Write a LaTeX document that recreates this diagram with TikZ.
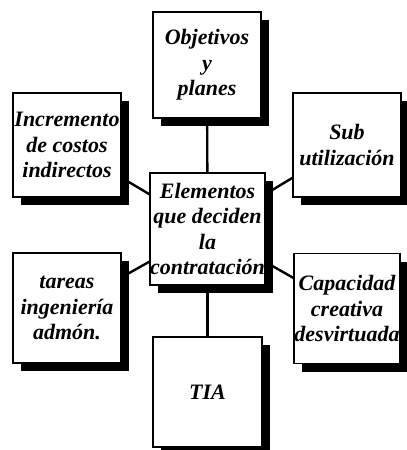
\documentclass[tikz,border=0pt]{standalone}
\usepackage{fontspec}
\setmainfont{Liberation Serif}
\usetikzlibrary{shadows,backgrounds}
\tikzset{
  box/.style={draw=black,line width=1.4pt,fill=white,inner sep=0pt,
    align=center,font=\fontsize{22}{25.5}\selectfont\bfseries\itshape,
    drop shadow={shadow xshift=8pt,shadow yshift=-8pt,fill=black,opacity=1}},
  link/.style={line width=2.4pt}
}
\begin{document}
\begin{tikzpicture}[x=1pt,y=-1pt]
                    \useasboundingbox (0,0) rectangle (407,450);
                    
                    % Marking box Objetivos
                    \node (obj) [box,minimum width=108pt,minimum height=106pt] at (207,65) {Objetivos\\y\\planes};%
                    
                    % Marking box Incremento
                    \node (inc) [box,minimum width=108pt,minimum height=104pt] at (67,145) {Incremento\\de costos\\indirectos};%
                    
                    % Marking box Sub
                    \node (sub) [box,minimum width=108pt,minimum height=104pt] at (347,145) {Sub\\utilizaci\'on};%
                    
                    % Marking box Elementos
                    \node (elem) [box,minimum width=109pt,minimum height=112pt] at (207.5,229) {Elementos\\que deciden\\la\\contrataci\'on};%
                    
                    % Marking box tareas
                    \node (tar) [box,minimum width=108pt,minimum height=110pt] at (67,308) {tareas\\ingenier\'{\i}a\\admón.};%
                    
                    % Marking box Capacidad
                    \node (cap) [box,minimum width=106pt,minimum height=110pt] at (347,308.5) {Capacidad\\creativa\\desvirtuada};%
                    
                    % Marking box TIA
                    \node (tia) [box,minimum width=109pt,minimum height=110pt] at (207.5,392) {TIA};%
                    
                    % Drawing links behind the boxes
                    \begin{scope}[on background layer]
                    \draw [link] (elem.center) -- (obj.center);%
                    \draw [link] (elem.center) -- (inc.center);%
                    \draw [link] (elem.center) -- (sub.center);%
                    \draw [link] (elem.center) -- (tar.center);%
                    \draw [link] (elem.center) -- (cap.center);%
                    \draw [link] (elem.center) -- (tia.center);%
                    \end{scope}
\end{tikzpicture}
\end{document}
